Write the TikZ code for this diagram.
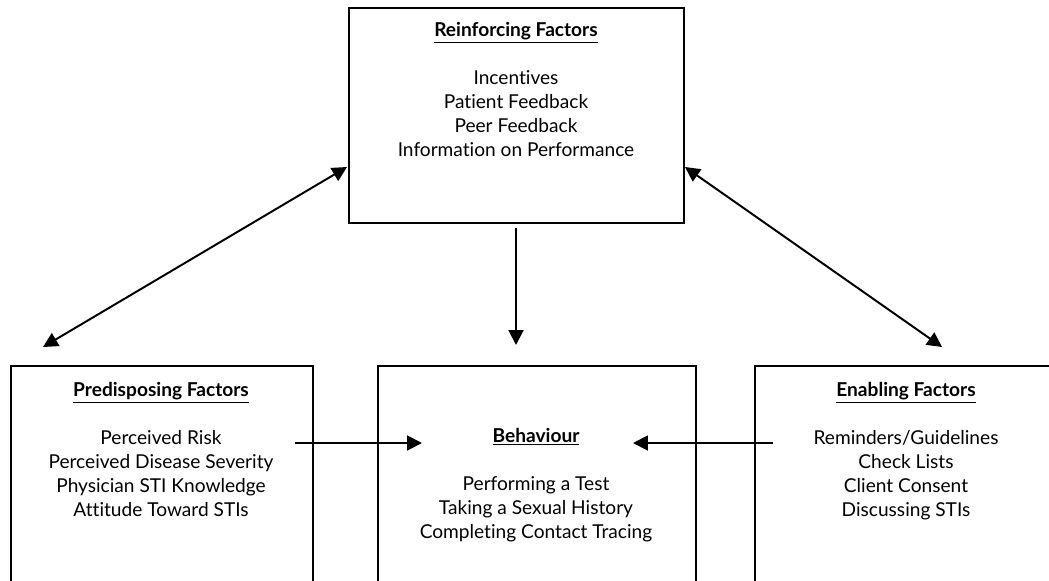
\documentclass[tikz,border=0pt]{standalone}
\usepackage{fontspec}
\setmainfont{Lato}[Ligatures=NoCommon]
\usetikzlibrary{arrows.meta}
\begin{document}
\begin{tikzpicture}[x=0.025cm,y=-0.025cm,
  box/.style={draw, line width=1.4pt, rectangle, anchor=north west, inner sep=0pt, minimum height=235*0.025cm},
  txt/.style={align=center, anchor=north, inner sep=0pt, font=\fontsize{13.6}{17.07}\selectfont},
  arr/.style={line width=1.4pt, -{Triangle[length=10.5pt,width=10.5pt]}},
  darr/.style={line width=1.4pt, {Triangle[length=10.5pt,width=10.5pt]}-{Triangle[length=10.5pt,width=10.5pt]}}]
\useasboundingbox (0,0) rectangle (1049,580);
\clip (0,0) rectangle (1049,580);
\node[box, minimum width=335*0.025cm, minimum height=215*0.025cm] (reinf) at (348,7){};
\node[txt] (reinfT) at (516,22){\underline{\textbf{Reinforcing Factors}}\\[17pt]Incentives\\Patient Feedback\\Peer Feedback\\Information on Performance};
\node[box, minimum width=302*0.025cm] (pred) at (10,365){};
\node[txt] (predT) at (161,382){\underline{\textbf{Predisposing Factors}}\\[17pt]Perceived Risk\\Perceived Disease Severity\\Physician STI Knowledge\\Attitude Toward STIs};
\node[box, minimum width=318*0.025cm] (behav) at (377,365){};
\node[txt] (behavT) at (536,428){\underline{\textbf{Behaviour}}\\[17pt]Performing a Test\\Taking a Sexual History\\Completing Contact Tracing};
\node[box, minimum width=304*0.025cm] (enab) at (754,365){};
\node[txt] (enabT) at (906,382){\underline{\textbf{Enabling Factors}}\\[17pt]Reminders/Guidelines\\Check Lists\\Client Consent\\Discussing STIs};
\coordinate (rl) at (347,167);
\coordinate (pl) at (43,347);
\coordinate (rr) at (685,167);
\coordinate (er) at (942,347);
\coordinate (rb) at (516,228);
\coordinate (bt) at (516,345);
\coordinate (pa) at (295,443);
\coordinate (bl) at (422,443);
\coordinate (ea) at (773,443);
\coordinate (br) at (633,443);
\draw[darr](pl) -- (rl);
\draw[darr](er) -- (rr);
\draw[arr](rb) -- (bt);
\draw[arr](pa) -- (bl);
\draw[arr](ea) -- (br);
\end{tikzpicture}
\end{document}
